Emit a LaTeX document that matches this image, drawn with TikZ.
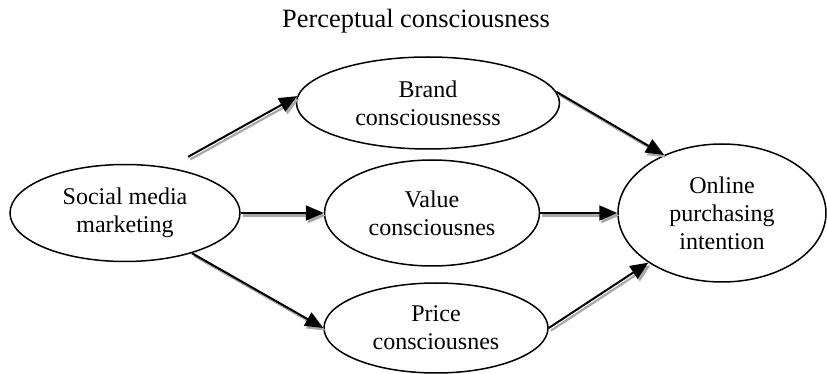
\documentclass[tikz,border=0pt]{standalone}
\usepackage{fontspec}
\setmainfont{Liberation Serif}
\usepackage{xcolor}
\usetikzlibrary{shapes.geometric,arrows.meta}
\definecolor{arrowShadow}{HTML}{A8A8A8}

\begin{document}
\begin{tikzpicture}[x=0.5pt, y=-0.5pt,
    construct/.style={ellipse, draw, line width=0.75pt, inner sep=0pt,
      align=center, font=\fontsize{12}{14}\selectfont},
    effect/.style={line width=1pt, -{Triangle[length=9pt,width=7.5pt]},
      preaction={draw=arrowShadow, line width=1.1pt, transform canvas={shift={(1.1pt,-1.3pt)}}}}]
  \useasboundingbox (0,0) rectangle (827,374);
  \node[font=\fontsize{13.2}{14}\selectfont] (title) at (416,21) {Perceptual consciousness};
  \node[construct, minimum width=115pt, minimum height=48.5pt] (social) at (125,213) {Social media\\marketing};
  \node[construct, minimum width=131.5pt, minimum height=46pt] (brand) at (428,103) {Brand\\consciousnesss};
  \node[construct, minimum width=107.5pt, minimum height=53pt] (value) at (432,213) {Value\\consciousnes};
  \node[construct, minimum width=112pt, minimum height=45pt] (price) at (436,328) {Price\\consciousnes};
  \node[construct, minimum width=104pt, minimum height=69pt] (online) at (722,213) {Online\\purchasing\\intention};
  \draw[effect, shorten <=11pt] (social.46) -- (brand.177);
  \draw[effect] (social.east) -- (value.west);
  \draw[effect] (social.-31) -- (price.west);
  \draw[effect] (brand.5) -- (online.135);
  \draw[effect] (value.east) -- (online.west);
  \draw[effect] (price.east) -- (online.214);
\end{tikzpicture}
\end{document}
